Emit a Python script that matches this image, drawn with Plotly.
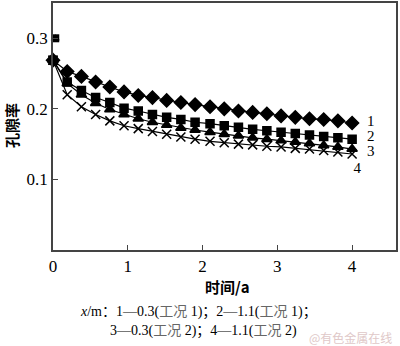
import plotly.graph_objects as go

# time axis (years)
time_a = [0, 0.19, 0.38, 0.57, 0.76, 0.95, 1.14, 1.33, 1.52, 1.71, 1.90,
          2.10, 2.29, 2.48, 2.67, 2.86, 3.05, 3.24, 3.43, 3.62, 3.81, 4.0]

# porosity, curve 1: x=0.3 m (case 1)
por_1 = [0.269, 0.253, 0.246, 0.238, 0.231, 0.224, 0.219, 0.216, 0.212, 0.209, 0.206,
         0.203, 0.200, 0.197, 0.195, 0.193, 0.190, 0.188, 0.186, 0.185, 0.183, 0.180]
# curve 2: x=1.1 m (case 1)
por_2 = [0.269, 0.238, 0.226, 0.216, 0.209, 0.201, 0.197, 0.192, 0.188, 0.185, 0.181,
         0.179, 0.176, 0.174, 0.171, 0.169, 0.167, 0.165, 0.163, 0.161, 0.159, 0.157]
# curve 3: x=0.3 m (case 2)
por_3 = [0.269, 0.236, 0.220, 0.208, 0.199, 0.192, 0.186, 0.181, 0.177, 0.173, 0.170,
         0.167, 0.164, 0.162, 0.159, 0.157, 0.155, 0.153, 0.151, 0.148, 0.146, 0.143]
# curve 4: x=1.1 m (case 2)
por_4 = [0.269, 0.220, 0.203, 0.192, 0.183, 0.176, 0.172, 0.168, 0.164, 0.160, 0.157,
         0.154, 0.152, 0.150, 0.149, 0.147, 0.146, 0.144, 0.143, 0.141, 0.139, 0.136]

# initial porosity point shown on the time axis origin
init_t = [0.03]
init_por = [0.30]

curve_labels = ["1", "2", "3", "4"]
label_t = [4.25, 4.25, 4.25, 4.07]
label_por = [0.181, 0.160, 0.139, 0.115]

x_ticks = [0, 1, 2, 3, 4]
y_ticks = [0.1, 0.2, 0.3]

SERIF = "Liberation Serif, Times New Roman, Noto Sans CJK SC"
CJK = "Noto Sans CJK SC, sans-serif"

fig = go.Figure()

series = [
    (por_1, "diamond", 10),
    (por_2, "square", 8),
    (por_3, "triangle-up", 9),
    (por_4, "x-thin", 9),
]
for vals, sym, size in series:
    fig.add_trace(go.Scatter(
        x=time_a, y=vals, mode="lines+markers",
        line=dict(color="black", width=1.2),
        marker=dict(symbol=sym, size=size, color="black",
                    line=dict(color="black", width=1.5)),
        showlegend=False, cliponaxis=False,
    ))

for sym in ["square", "triangle-up"]:
    fig.add_trace(go.Scatter(
        x=init_t, y=init_por, mode="markers",
        marker=dict(symbol=sym, size=8, color="black"),
        showlegend=False, cliponaxis=False,
    ))

fig.add_trace(go.Scatter(
    x=label_t, y=label_por, mode="text", text=curve_labels,
    textfont=dict(family=SERIF, size=15, color="black"),
    showlegend=False, cliponaxis=False,
))

axis_common = dict(
    showline=True, linecolor="#444", linewidth=1.5, mirror=True,
    ticks="inside", ticklen=5, tickcolor="#444", tickwidth=1.2,
    showgrid=False, zeroline=False,
    tickfont=dict(family=SERIF, size=17, color="black"),
)

fig.update_layout(
    width=400, height=346,
    margin=dict(l=53, r=4, t=1, b=96),
    paper_bgcolor="white", plot_bgcolor="white",
    xaxis=dict(range=[0, 4.587], tickvals=x_ticks,
               ticktext=[str(v) for v in x_ticks], **axis_common),
    yaxis=dict(range=[0, 0.35], tickvals=y_ticks,
               ticktext=[f"{v:.1f}" for v in y_ticks], **axis_common),
    annotations=[
        dict(text="<b>时间/a</b>", x=227, y=287, xref="paper", yref="paper",
             showarrow=False, font=dict(family=CJK, size=15, color="black"),
             xanchor="center", yanchor="middle"),
        dict(text="<b>孔隙率</b>", x=11, y=125, xref="paper", yref="paper",
             textangle=-90, showarrow=False,
             font=dict(family=CJK, size=15, color="black"),
             xanchor="center", yanchor="middle"),
        dict(text="<i>x</i>/m：1—0.3(<span style='color:#666'>工况</span> 1)；"
                  "2—1.1(<span style='color:#666'>工况</span> 1)；",
             x=198, y=312, xref="paper", yref="paper", showarrow=False,
             font=dict(family=SERIF, size=14, color="black"),
             xanchor="center", yanchor="middle"),
        dict(text="3—0.3(<span style='color:#666'>工况</span> 2)；"
                  "4—1.1(<span style='color:#666'>工况</span> 2)",
             x=203, y=332, xref="paper", yref="paper", showarrow=False,
             font=dict(family=SERIF, size=14, color="black"),
             xanchor="center", yanchor="middle"),
        dict(text="@有色金属在线", x=350, y=338, xref="paper", yref="paper",
             showarrow=False, font=dict(family=CJK, size=12, color="#e0c8c8"),
             xanchor="center", yanchor="middle"),
    ],
)

# annotations above are placed in pixels: convert them to paper coordinates
plot_w = 400 - 53 - 4
plot_h = 346 - 1 - 96
for ann in fig.layout.annotations:
    ann.x = (ann.x - 53) / plot_w
    ann.y = (346 - 96 - ann.y) / plot_h

fig.write_html("out.html")
